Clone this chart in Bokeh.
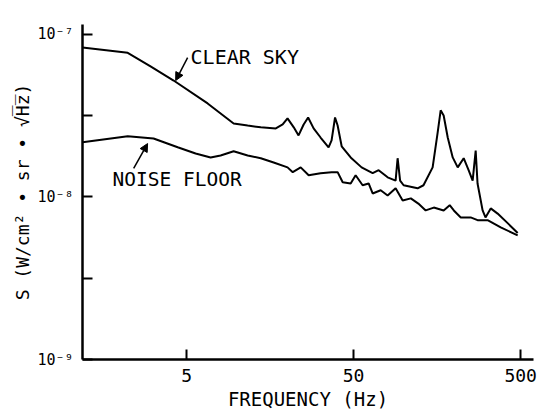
from bokeh.plotting import figure
from bokeh.models import (FixedTicker, Arrow, NormalHead, Label, ColumnDataSource,
                          Range1d, CustomJSTickFormatter)
from bokeh.embed import file_html
from bokeh.resources import INLINE

# ---- data ----
clear_f = [1.19, 2.22, 3.04, 4.18, 6.68, 9.56, 11.6, 13.9, 17.1, 18.8, 20.1, 21.9, 23.4,
           25.1, 26.7, 28.8, 31.7, 35.4, 36.9, 38.7, 40.1, 42.4, 48.0, 55.8, 65.0, 70.6,
           79.9, 89.2, 91.7, 94.9, 99.6, 120.8, 131, 148.6, 159, 166, 173, 183, 196, 210,
           228, 244, 258, 269, 276, 296, 308, 331, 364, 418, 480]
clear_s = [8.3e-8, 7.7e-8, 6.35e-8, 5.2e-8, 3.76e-8, 2.83e-8, 2.75e-8, 2.68e-8, 2.64e-8,
           2.79e-8, 3.04e-8, 2.68e-8, 2.39e-8, 2.79e-8, 3.08e-8, 2.64e-8, 2.32e-8, 2.02e-8,
           2.23e-8, 3.08e-8, 2.75e-8, 2.05e-8, 1.75e-8, 1.52e-8, 1.40e-8, 1.46e-8, 1.32e-8,
           1.26e-8, 1.73e-8, 1.26e-8, 1.18e-8, 1.13e-8, 1.18e-8, 1.52e-8, 2.46e-8, 3.41e-8,
           3.17e-8, 2.32e-8, 1.75e-8, 1.52e-8, 1.73e-8, 1.46e-8, 1.26e-8, 1.93e-8, 1.21e-8,
           8.26e-9, 7.48e-9, 8.5e-9, 7.9e-9, 6.9e-9, 6.0e-9]

noise_f = [1.19, 2.22, 3.17, 4.42, 5.66, 6.96, 7.99, 9.56, 11.6, 13.9, 16.6, 20.1, 21.6,
           24.1, 26.9, 31.7, 36.9, 40.1, 43.0, 48.0, 51.4, 56.6, 61.5, 65.0, 72.6, 79.9,
           89.2, 98.3, 110, 122, 135, 151, 173, 188, 199, 219, 251, 276, 317, 380, 480]
noise_s = [2.17e-8, 2.36e-8, 2.29e-8, 2.02e-8, 1.85e-8, 1.75e-8, 1.80e-8, 1.91e-8, 1.80e-8,
           1.73e-8, 1.63e-8, 1.52e-8, 1.42e-8, 1.52e-8, 1.36e-8, 1.40e-8, 1.42e-8, 1.42e-8,
           1.23e-8, 1.21e-8, 1.36e-8, 1.18e-8, 1.21e-8, 1.05e-8, 1.10e-8, 1.02e-8, 1.13e-8,
           9.5e-9, 9.8e-9, 9.1e-9, 8.26e-9, 8.6e-9, 8.26e-9, 8.9e-9, 8.26e-9, 7.48e-9,
           7.48e-9, 7.2e-9, 7.2e-9, 6.5e-9, 5.8e-9]

x_tick_values = [5, 50, 500]
x_tick_labels = ["5", "50", "500"]
y_tick_values = [1e-9, 1e-8, 1e-7]
y_tick_labels = ["10\u207b\u2079", "10\u207b\u2078", "10\u207b\u2077"]
y_minor_values = [3.16e-9, 3.16e-8]

FONT = "DejaVu Sans Mono"

p = figure(width=539, height=412, x_axis_type="log", y_axis_type="log",
           x_range=Range1d(1.19, 597), y_range=Range1d(1e-9, 1.15e-7),
           output_backend="svg", toolbar_location=None,
           min_border_left=82, min_border_right=6, min_border_top=24, min_border_bottom=53)
p.outline_line_color = None
p.xgrid.visible = False
p.ygrid.visible = False
p.background_fill_color = "white"
p.border_fill_color = "white"

p.line(clear_f, clear_s, line_color="black", line_width=2)
p.line(noise_f, noise_s, line_color="black", line_width=2)

# axes
p.xaxis.ticker = FixedTicker(ticks=x_tick_values)
p.xaxis.formatter = CustomJSTickFormatter(args=dict(vals=x_tick_values, labs=x_tick_labels), code="""
for (let i = 0; i < vals.length; i++) { if (Math.abs(Math.log10(tick) - Math.log10(vals[i])) < 1e-6) return labs[i]; }
return '';""")
p.yaxis.ticker = FixedTicker(ticks=y_tick_values, minor_ticks=y_minor_values)
p.yaxis.formatter = CustomJSTickFormatter(args=dict(vals=y_tick_values, labs=y_tick_labels), code="""
for (let i = 0; i < vals.length; i++) { if (Math.abs(Math.log10(tick) - Math.log10(vals[i])) < 1e-6) return labs[i]; }
return '';""")

for ax in (p.xaxis, p.yaxis):
    ax.axis_line_width = 2.5
    ax.axis_line_color = "black"
    ax.major_tick_in = 10
    ax.major_tick_out = 0
    ax.major_tick_line_width = 2
    ax.major_tick_line_color = "black"
    ax.minor_tick_in = 10
    ax.minor_tick_out = 0
    ax.minor_tick_line_width = 2
    ax.minor_tick_line_color = "black"
    ax.major_label_text_font = FONT
    ax.major_label_text_color = "black"
    ax.axis_label_text_font = FONT
    ax.axis_label_text_font_style = "normal"
    ax.axis_label_text_color = "black"

p.xaxis.minor_tick_in = 0
p.xaxis.major_label_text_font_size = "18px"
p.xaxis.major_label_standoff = 9
p.xaxis.axis_label = "FREQUENCY (Hz)"
p.xaxis.axis_label_text_font_size = "19px"
p.xaxis.axis_label_standoff = 3

p.yaxis.major_label_text_font_size = "15px"
p.yaxis.major_label_standoff = 9
p.yaxis.axis_label = "S (W/cm\u00b2 \u2022 sr \u2022 \u221aH\u0305z\u0305)"
p.yaxis.axis_label_text_font_size = "18px"
p.yaxis.axis_label_standoff = 1

# annotations
p.add_layout(Label(x=5.28, y=7.3e-8, text="CLEAR SKY", text_font=FONT, text_font_size="20px",
                   text_baseline="middle", text_align="left", text_color="black"))
p.add_layout(Label(x=1.80, y=1.28e-8, text="NOISE FLOOR", text_font=FONT, text_font_size="19.5px",
                   text_baseline="middle", text_align="left", text_color="black"))
p.add_layout(Arrow(end=NormalHead(size=8, fill_color="black", line_color="black"),
                   x_start=5.07, y_start=7.2e-8, x_end=4.30, y_end=5.2e-8,
                   line_width=1.5, line_color="black"))
p.add_layout(Arrow(end=NormalHead(size=8, fill_color="black", line_color="black"),
                   x_start=2.41, y_start=1.5e-8, x_end=2.92, y_end=2.13e-8,
                   line_width=1.5, line_color="black"))

open("out.html", "w").write(file_html(p, INLINE))
